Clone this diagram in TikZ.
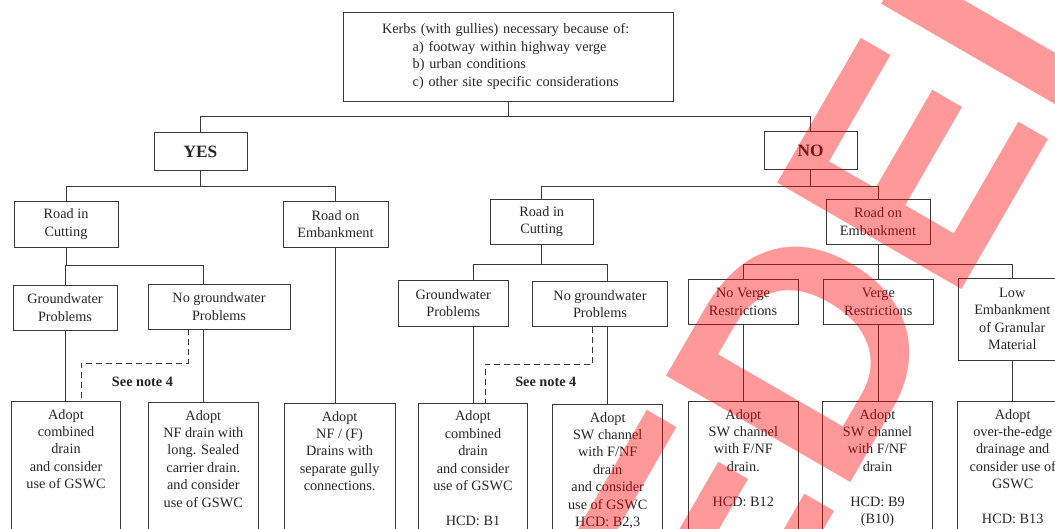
\documentclass[tikz,border=0pt]{standalone}
\usepackage{fontspec}
\setmainfont{Liberation Serif}
\newfontfamily\stampfont{Liberation Sans}
\usetikzlibrary{calc}

\tikzset{
  box/.style={draw=black!78, line width=0.7pt, text=black!85, align=center, inner sep=0pt,
    font=\fontsize{10.7}{13.05}\selectfont},
  sz/.style 2 args={minimum width=#1*0.75pt, minimum height=#2*0.75pt},
  answer/.style={box, font=\fontsize{13}{15}\selectfont\bfseries},
  tall/.style={box, anchor=north, minimum width=#1*0.75pt, minimum height=105pt},
  adopt/.style={anchor=north, align=center, inner xsep=0pt, inner ysep=6pt, text=black!85,
    font=\fontsize{10.7}{13.05}\selectfont},
  link/.style={draw=black!78, line width=0.7pt},
  note/.style={link, dash pattern=on 4.5pt off 3pt},
  notetext/.style={text=black!85, font=\fontsize{10.7}{13.05}\selectfont\bfseries},
  stamp/.style={text=red, text opacity=0.4, inner sep=0pt, rotate=60,
    font=\stampfont\bfseries\fontsize{232}{232}\selectfont}
}

\begin{document}
\begin{tikzpicture}[x=0.75pt, y=-0.75pt]
			\useasboundingbox (0,0) rectangle (1055,528);
			
			%%%%% QUESTION %%%%%
			\node[box, sz={330}{89}, align=left, text width=189pt, inner xsep=29.25pt] (kerbs) at (508,56.5)
				{Kerbs (with gullies) necessary because of:\\
				\hspace*{23pt}a) footway within highway verge\\
				\hspace*{23pt}b) urban conditions\\
				\hspace*{23pt}c) other site specific considerations};
			
			\node[answer, sz={93}{38}] (yes) at (200.5,151.5) {YES};
			\node[answer, sz={93}{38}] (no) at (810.5,150.5) {NO};
			
			%%%%% YES %%%%%
			\node[box, sz={104}{46}] (rcl) at (66,224) {Road in\\Cutting};
			\node[box, sz={105}{46}] (rel) at (335.5,224) {Road on\\Embankment};
			\node[box, sz={104}{45}] (gwl) at (65,307.5) {Groundwater\\Problems};
			\node[box, sz={142}{45}] (ngwl) at (219,306.5) {No groundwater\\Problems};
			
			\node[tall=109] (ad1) at (66,401) {};
			\node[adopt] at (ad1.north) {Adopt\\combined\\drain\\and consider\\use of GSWC};
			\node[tall=110] (ad2) at (203.3,402) {};
			\node[adopt] at (ad2.north) {Adopt\\NF drain with\\long. Sealed\\carrier drain.\\and consider\\use of GSWC};
			\node[tall=111] (ad3) at (339.6,403) {};
			\node[adopt] at (ad3.north) {Adopt\\NF / (F)\\Drains with\\separate gully\\connections.};
			
			%%%%% NO %%%%%
			\node[box, sz={103}{45}] (rcr) at (541.7,221.8) {Road in\\Cutting};
			\node[box, sz={104}{45}] (rer) at (878,221.8) {Road on\\Embankment};
			\node[box, sz={110}{46}] (gwr) at (453.3,303) {Groundwater\\Problems};
			\node[box, sz={135}{45}] (ngwr) at (600,304) {No groundwater\\Problems};
			\node[box, sz={110}{45}] (nvr) at (743,302) {No Verge\\Restrictions};
			\node[box, sz={110}{45}] (vr) at (878.3,302) {Verge\\Restrictions};
			\node[box, sz={108}{82}] (low) at (1012.3,319) {Low\\Embankment\\of Granular\\Material};
			
			\node[tall=109] (b1) at (473,402.7) {};
			\node[adopt] at (b1.north) {Adopt\\combined\\drain\\and consider\\use of GSWC\\[13.05pt]HCD: B1};
			\node[tall=110] (b23) at (607.7,404) {};
			\node[adopt] at (b23.north) {Adopt\\SW channel\\with F/NF\\drain\\and consider\\use of GSWC\\HCD: B2,3};
			\node[tall=110] (b12) at (743.3,401) {};
			\node[adopt] at (b12.north) {Adopt\\SW channel\\with F/NF\\drain.\\[13.05pt]HCD: B12};
			\node[tall=110] (b9) at (877.5,401) {};
			\node[adopt] at (b9.north) {Adopt\\SW channel\\with F/NF\\drain\\[13.05pt]HCD: B9\\(B10)};
			\node[tall=110] (b13) at (1012.7,401) {};
			\node[adopt] at (b13.north) {Adopt\\over-the-edge\\drainage and\\consider use of\\GSWC\\[13.05pt]HCD: B13};
			
			%%%%% LINKS %%%%%
			\draw[link] (kerbs.south) -- ++(0,16);
			\draw[link] (yes.north) -- ++(0,-16) -| (no.north);
			
			\draw[link] (yes.south) -- ++(0,15) -| (rcl.north);
			\draw[link] (yes.south) ++(0,15) -| (rel.north);
			\draw[link] (rcl.south) -- ++(0,18) -| (gwl.north);
			\draw[link] (rcl.south) ++(0,18) -| (ad2.north |- ngwl.north);
			\draw[link] (rel.south) -- (rel.south |- ad3.north);
			\draw[link] (gwl.south) -- (gwl.south |- ad1.north);
			\draw[link] (ngwl.south -| ad2.north) -- (ad2.north);
			
			\draw[link] (no.south) -- ++(0,16) -| (rcr.north);
			\draw[link] (no.south) ++(0,16) -| (rer.north);
			\draw[link] (rcr.south) -- ++(0,20) -| (b1.north |- gwr.north);
			\draw[link] (rcr.south) ++(0,20) -| (b23.north |- ngwr.north);
			\draw[link] (gwr.south -| b1.north) -- (b1.north);
			\draw[link] (ngwr.south -| b23.north) -- (b23.north);
			\draw[link] (rer.south) -- ++(0,20) -| (nvr.north);
			\draw[link] (rer.south) ++(0,20) -| (vr.north);
			\draw[link] (rer.south) ++(0,20) -| (low.north);
			\draw[link] (nvr.south) -- (nvr.south |- b12.north);
			\draw[link] (vr.south) -- (vr.south |- b9.north);
			\draw[link] (low.south) -- (low.south |- b13.north);
			
			% see note 4
			\draw[note] ($(ngwl.south)+(-31,0)$) -- ++(0,34) -| ($(ad1.north)+(15,0)$);
			\node[notetext] (notel) at (142.5,382) {See note 4};
			\draw[note] ($(ngwr.south)+(-7.3,0)$) -- ++(0,37) -| ($(b1.north)+(12,0)$);
			\node[notetext] (noter) at (545.8,382.3) {See note 4};
			
			%%%%% STAMP %%%%%
			\node[stamp, anchor=base east] (sup) at (1167,-65) {SUPERSEDED};
\end{tikzpicture}
\end{document}
